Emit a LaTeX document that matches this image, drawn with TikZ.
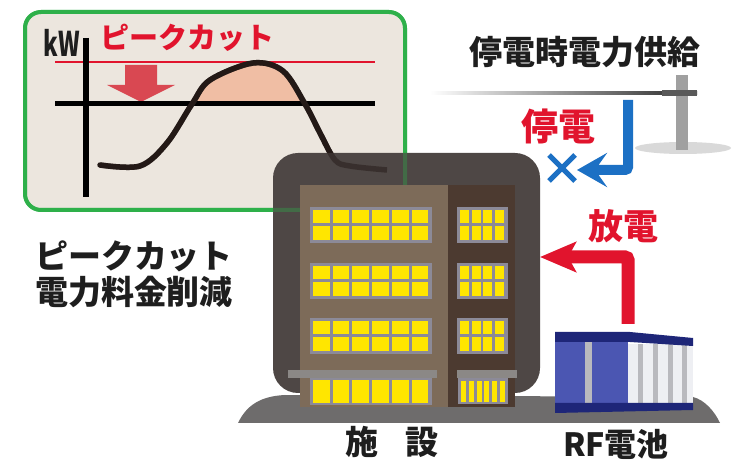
\documentclass[tikz,border=0pt]{standalone}
\usepackage{fontspec}
\setmainfont{Noto Sans CJK JP}[BoldFont={Noto Sans CJK JP Black}]
\usetikzlibrary{arrows.meta}
\definecolor{chartbg}{RGB}{236,230,222}
\definecolor{chartgreen}{RGB}{46,176,74}
\definecolor{cutred}{RGB}{225,20,45}
\definecolor{cutpink}{RGB}{217,72,82}
\definecolor{peakfill}{RGB}{240,190,164}
\definecolor{curvedark}{RGB}{35,25,22}
\definecolor{framegray}{RGB}{78,71,69}
\definecolor{facadelight}{RGB}{125,107,89}
\definecolor{facadedark}{RGB}{76,58,48}
\definecolor{winframe}{RGB}{140,138,152}
\definecolor{winyellow}{RGB}{255,230,0}
\definecolor{ledgegray}{RGB}{139,136,134}
\definecolor{groundgray}{RGB}{110,108,108}
\definecolor{rfblue}{RGB}{75,86,178}
\definecolor{rfnavy}{RGB}{30,38,120}
\definecolor{rflight}{RGB}{238,239,243}
\definecolor{rfstripe}{RGB}{185,185,190}
\definecolor{gridblue}{RGB}{28,112,196}
\definecolor{polegray}{RGB}{160,160,160}
\definecolor{labelblack}{RGB}{30,30,30}

% load curve of the chart
\newcommand{\kwcurve}{plot[smooth, tension=0.55] coordinates {(100,165) (140,166) (167,143) (192,104) (210,80) (253,63) (283,71) (305,104) (320,133) (335,160) (350,166) (387,170)}}

\begin{document}
\begin{tikzpicture}[x=1pt, y=-1pt,
  jp/.style={font=\bfseries\fontsize{#1}{#1}\selectfont, inner sep=0pt},
  jp/.default=33]
\useasboundingbox[fill=white] (0,0) rectangle (737,462);

% Chart panel
\fill[chartbg, rounded corners=16pt] (25,12) rectangle (405,210);
\begin{scope}
  \clip (55,20) rectangle (375,104);
  \fill[peakfill] \kwcurve -- (387,200) -- (100,200) -- cycle;
\end{scope}
\draw[cutred, line width=2.5pt] (55,62) -- (375,62);
\fill[cutpink] (125,65) -- (157,65) -- (157,85) -- (175,85) -- (141,102) -- (107,85) -- (125,85) -- cycle;
\draw[black, line width=5pt] (55,104) -- (375,104);
\draw[black, line width=6pt] (86,38) -- (86,197);
\draw[curvedark, line width=5.5pt, line cap=round] \kwcurve;
\draw[chartgreen, line width=4pt, rounded corners=16pt] (25,12) rectangle (405,210);
\node[jp=34, labelblack] (kwlabel) at (62,43) {\scalebox{0.68}[1]{kW}};
\node[jp=29, cutred] (cutlabel) at (187,38) {ピークカット};

% Building outline
\fill[framegray, rounded corners=25pt] (273,153) rectangle (540,393);
\draw[chartgreen, line width=4pt, rounded corners=16pt, opacity=0.35] (25,12) rectangle (405,210);
\draw[curvedark, line width=5.5pt, opacity=0.5] \kwcurve;

% Ground
\fill[groundgray] (238,423) .. controls (248,402) and (265,396) .. (285,395) -- (693,397) .. controls (705,400) and (715,412) .. (720,423) -- cycle;

% Facade
\fill[facadelight] (300,185) rectangle (448,407);
\fill[facadedark] (448,185) rectangle (515,407);
\foreach \y in {207,263,318} {
  \fill[winframe] (310,\y) rectangle (432,\y+36);
  \foreach \i in {0,...,5} {
    \fill[winyellow] ({313+\i*19.7},\y+3) rectangle +(16.7,13.5);
    \fill[winyellow] ({313+\i*19.7},\y+19.5) rectangle +(16.7,13.5);
  }
  \fill[winframe] (457,\y) rectangle (508,\y+36);
  \foreach \i in {0,...,3} {
    \fill[winyellow] ({460+\i*11.5},\y+3) rectangle +(9,13.5);
    \fill[winyellow] ({460+\i*11.5},\y+19.5) rectangle +(9,13.5);
  }
}
\fill[ledgegray] (288,370) rectangle (437,378);
\fill[ledgegray] (457,370) rectangle (517,378);
\fill[winframe] (310,378) rectangle (432,405);
\foreach \i in {0,...,5}
  \fill[winyellow] ({313+\i*19.7},380) rectangle +(16.7,23);
\fill[winframe] (458,378) rectangle (508,404);
\foreach \i in {0,...,5}
  \fill[winyellow] ({461+\i*7.8},381) rectangle +(5,21);

% RF battery
\fill[rfblue] (555,342) rectangle (628,403);
\fill[rfstripe] (585,342) rectangle (592,403);
\fill[rflight] (628,344) rectangle (693,405);
\foreach \x in {638,653,668,682}
  \fill[rfstripe] (\x,344) rectangle +(5,61);
\fill[rfnavy] (555,332) -- (630,332) -- (693,338) -- (693,346) -- (630,342) -- (555,342) -- cycle;
\fill[rfnavy] (555,403) -- (693,403) -- (693,410) -- (555,413) -- cycle;

% Utility pole and line
\fill[black!15] (683,148) ellipse (48 and 6);
\fill[polegray] (676,75) rectangle (688,150);
\shade[left color=white, right color=black!85] (430,92) rectangle (697,95);
\fill[black!65] (662,90) rectangle (697,96);

% Outage and discharge arrows
\coordinate (gridtap) at (628,100);
\coordinate (cutoff) at (577,170);
\draw[gridblue, line width=10pt, rounded corners=3pt, -{Stealth[length=30pt, width=34pt, inset=12pt]}] (gridtap) |- (cutoff);
\draw[gridblue, line width=5pt] (549,155) -- (575,181) (549,181) -- (575,155);
\coordinate (rftop) at (628,324);
\coordinate (bldgside) at (540,257);
\draw[cutred, line width=13pt, rounded corners=3pt, -{Stealth[length=36pt, width=30pt, inset=8pt]}] (rftop) |- (bldgside);

% Labels
\node[jp, labelblack] (supplylabel) at (585,52) {停電時電力供給};
\node[jp=37, cutred] (outagelabel) at (558,126) {停電};
\node[jp=35, cutred] (dischglabel) at (623,226) {放電};
\node[jp, labelblack] (benefit1) at (134,256) {ピークカット};
\node[jp, labelblack] (benefit2) at (134,292) {電力料金削減};
\node[jp, labelblack] (facilitylabel) at (392,442) {施\hspace{0.8em}設};
\node[jp=32, labelblack] (batterylabel) at (616,444) {RF電池};
\end{tikzpicture}
\end{document}
